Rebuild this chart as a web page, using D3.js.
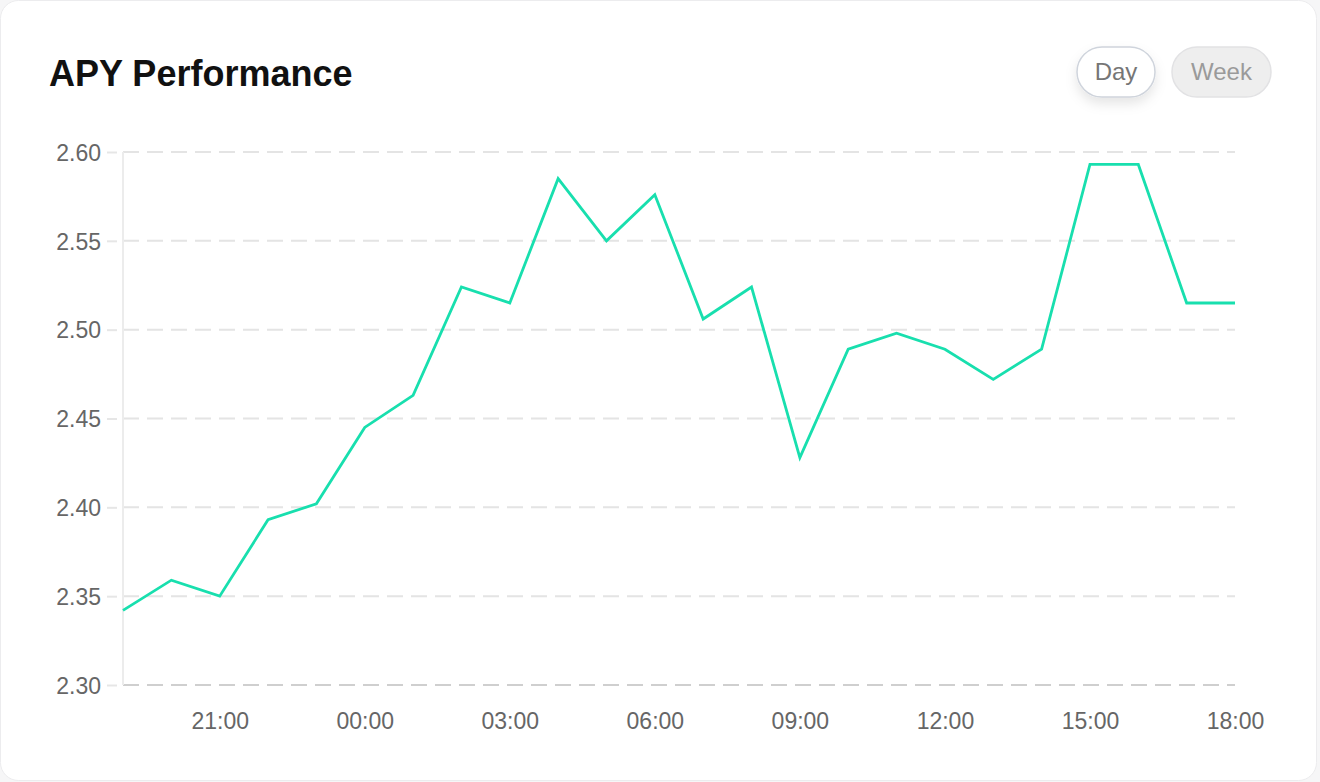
<!DOCTYPE html>
<html>
<head>
<meta charset="utf-8">
<script src="https://cdn.jsdelivr.net/npm/d3@7"></script>
<style>
  html, body { margin: 0; padding: 0; background: #f6f6f7; }
  svg { display: block; }
  text { font-family: "Liberation Sans", Arial, sans-serif; }
</style>
</head>
<body>
<svg id="chart" width="1320" height="782"></svg>
<script>
// ---- data ----
const hours = ["19:00","20:00","21:00","22:00","23:00","00:00","01:00","02:00","03:00","04:00","05:00","06:00",
               "07:00","08:00","09:00","10:00","11:00","12:00","13:00","14:00","15:00","16:00","17:00","18:00"];
const apy = [2.342, 2.359, 2.350, 2.393, 2.402, 2.445, 2.463, 2.524, 2.515, 2.585, 2.550, 2.576,
             2.506, 2.524, 2.428, 2.489, 2.498, 2.489, 2.472, 2.489, 2.593, 2.593, 2.515, 2.515];
const xTickLabels = ["21:00","00:00","03:00","06:00","09:00","12:00","15:00","18:00"];
const yTickValues = [2.30, 2.35, 2.40, 2.45, 2.50, 2.55, 2.60];
const title = "APY Performance";
const buttons = ["Day", "Week"];

const svg = d3.select("#chart");

// card
const defs = svg.append("defs");
const f = defs.append("filter").attr("id","btnShadow").attr("x","-50%").attr("y","-50%").attr("width","200%").attr("height","220%");
f.append("feDropShadow").attr("dx",0).attr("dy",6).attr("stdDeviation",6).attr("flood-color","#000").attr("flood-opacity",0.10);

svg.append("rect").attr("x",0.5).attr("y",0.5).attr("width",1316).attr("height",780)
  .attr("rx",18).attr("fill","#ffffff").attr("stroke","#ececee");

// title
svg.append("text").attr("x",49).attr("y",86).attr("font-size",36).attr("font-weight",700)
  .attr("fill","#111").text(title);

// buttons
const btn = [
  {x:1077, w:78, fill:"#ffffff", stroke:"#cfd4dc", color:"#767676", shadow:true},
  {x:1172, w:99, fill:"#eeeeee", stroke:"#e2e2e4", color:"#9a9a9a", shadow:false}
];
buttons.forEach((b,i) => {
  const s = btn[i];
  const g = svg.append("g");
  g.append("rect").attr("x",s.x).attr("y",47).attr("width",s.w).attr("height",50).attr("rx",25)
    .attr("fill",s.fill).attr("stroke",s.stroke).attr("stroke-width",1.5)
    .attr("filter", s.shadow ? "url(#btnShadow)" : null);
  g.append("text").attr("x",s.x + s.w/2).attr("y",80).attr("text-anchor","middle")
    .attr("font-size",24).attr("fill",s.color).text(b);
});

// scales
const x = d3.scalePoint().domain(hours).range([123, 1235]);
const y = d3.scaleLinear().domain([2.30, 2.60]).range([685, 152]);

// grid
const grid = svg.append("g");
grid.selectAll("line.g").data(yTickValues).join("line")
  .attr("x1",123).attr("x2",1235).attr("y1",d=>y(d)).attr("y2",d=>y(d))
  .attr("stroke",(d,i)=> i===0 ? "#cfcfcf" : "#e4e4e4").attr("stroke-width",2)
  .attr("stroke-dasharray","16 8");

// y axis line
svg.append("line").attr("x1",123).attr("x2",123).attr("y1",152).attr("y2",685)
  .attr("stroke","#ececec").attr("stroke-width",2);

// y axis
const yAxis = d3.axisLeft(y).tickValues(yTickValues).tickFormat(d3.format(".2f")).tickSize(0);
const yg = svg.append("g").attr("transform","translate(115,0)").call(yAxis);
yg.select(".domain").remove();
yg.selectAll(".tick line").remove();
yg.selectAll(".tick").append("line").attr("x1",-8).attr("x2",2).attr("stroke","#e6e6e6").attr("stroke-width",2);
yg.selectAll(".tick text").attr("x",-14).attr("dy","0.36em").attr("font-size",23).attr("fill","#666")
  .attr("font-family","'Liberation Sans', Arial, sans-serif");

// x axis
const xAxis = d3.axisBottom(x).tickValues(xTickLabels).tickSize(0);
const xg = svg.append("g").attr("transform","translate(0,685)").call(xAxis);
xg.select(".domain").remove();
xg.selectAll(".tick text").attr("y",44).attr("dy",0).attr("font-size",23).attr("fill","#666")
  .attr("font-family","'Liberation Sans', Arial, sans-serif");

// line
const line = d3.line().x((d,i)=>x(hours[i])).y(d=>y(d));
svg.append("path").datum(apy).attr("d",line).attr("fill","none")
  .attr("stroke","#18dfae").attr("stroke-width",2.8).attr("stroke-linejoin","miter");
</script>
</body>
</html>
